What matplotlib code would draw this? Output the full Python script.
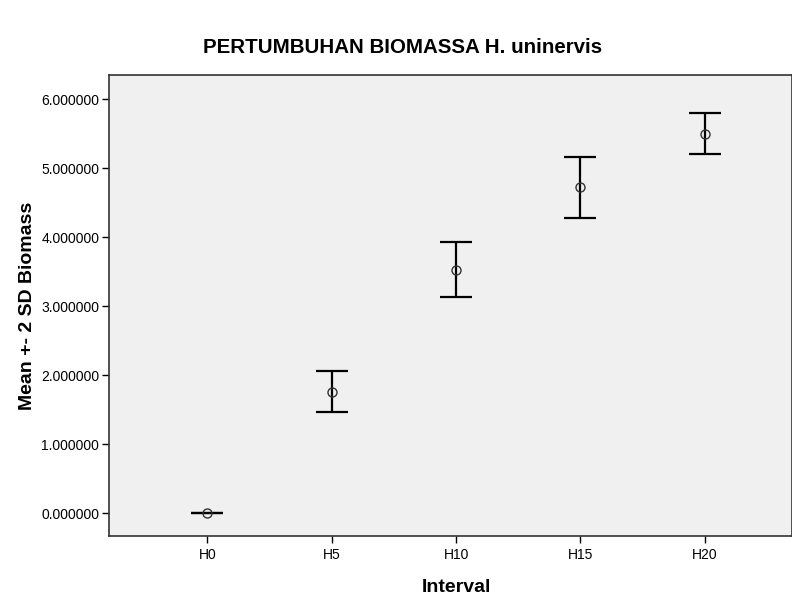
import matplotlib
matplotlib.use("Agg")
import matplotlib.pyplot as plt
import numpy as np

plt.rcParams["font.family"] = ["Liberation Sans", "DejaVu Sans"]

intervals = ["H0", "H5", "H10", "H15", "H20"]
mean_biomass = [0.0, 1.76, 3.53, 4.72, 5.50]
two_sd = [0.0, 0.30, 0.40, 0.44, 0.30]

fig = plt.figure(figsize=(7.92, 5.99), dpi=100)
ax = fig.add_axes([0.1376, 0.1052, 0.8624, 0.7696])
ax.set_facecolor("#F0F0F0")

x = np.arange(len(intervals))
ax.errorbar(
    x, mean_biomass, yerr=two_sd,
    fmt="none", ecolor="black", elinewidth=1.6, capsize=11.5, capthick=1.6,
)
ax.plot(x, mean_biomass, "o", mfc="none", mec="#333333", ms=6.5, mew=1.0)

ax.set_xlim(-0.79, 4.7)
ax.set_ylim(-0.33, 6.35)
ax.set_xticks(x)
ax.set_xticklabels(intervals)
ax.set_yticks(np.arange(0, 7, 1))
ax.set_yticklabels([f"{v:.6f}" for v in np.arange(0, 7, 1)])
ax.tick_params(direction="out", length=5, width=1, labelsize=10, colors="black")
ax.tick_params(axis="y", pad=2)
for spine in ax.spines.values():
    spine.set_color("#333333")
    spine.set_linewidth(1.2)

ax.set_xlabel("Interval", fontsize=14, fontweight="bold")
ax.set_ylabel("Mean +- 2 SD Biomass", fontsize=14, fontweight="bold")
ax.xaxis.set_label_coords(0.508, -0.111)
ax.yaxis.set_label_coords(-0.12, 0.5)
ax.xaxis.label.set_va("center")
ax.yaxis.label.set_va("center")
fig.text(0.508, 0.921, "PERTUMBUHAN BIOMASSA H. uninervis",
         ha="center", va="center", fontsize=14.8, fontweight="bold")

fig.savefig("out.png", dpi=100)
